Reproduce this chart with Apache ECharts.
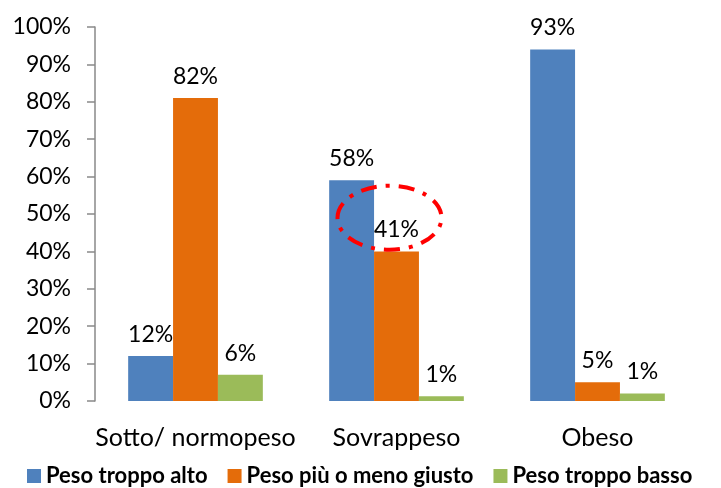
<!DOCTYPE html>
<html><head><meta charset="utf-8">
<script src="https://cdn.jsdelivr.net/npm/echarts@6/dist/echarts.min.js"></script>
<style>html,body{margin:0;padding:0;background:#fff;overflow:hidden}#c{width:721px;height:488px}</style>
</head><body><div id="c"></div>
<script>
var categories = ['Sotto/ normopeso', 'Sovrappeso', 'Obeso'];
var seriesNames = ['Peso troppo alto', 'Peso più o meno giusto', 'Peso troppo basso'];
var altoValues = [12, 59, 94];
var giustoValues = [81, 40, 5];
var bassoValues = [7, 1.3, 2];
var altoLabels = ['12%', '58%', '93%'];
var giustoLabels = ['82%', '41%', '5%'];
var bassoLabels = ['6%', '1%', '1%'];
var yTicks = [0, 10, 20, 30, 40, 50, 60, 70, 80, 90, 100];

var colors = ['#4F81BD', '#E46C0A', '#9BBB59'];
var FONT = 'Lato, "Open Sans", sans-serif';

function mkSeries(name, vals, labels, color) {
  return {
    name: name, type: 'bar', data: vals, barGap: '0%', barCategoryGap: '33%',
    itemStyle: { color: color },
    label: {
      show: true, position: 'top', distance: 10, color: '#000',
      fontFamily: FONT, fontSize: 23,
      formatter: function (p) { return labels[p.dataIndex]; }
    }
  };
}

var chart = echarts.init(document.getElementById('c'));
chart.setOption({
  animation: false,
  color: colors,
  grid: { left: 95, right: 23, top: 27, bottom: 87, containLabel: false },
  legend: {
    top: 465, left: 27, width: 700, padding: 0, itemWidth: 14, itemHeight: 14, itemGap: 20,
    icon: 'rect',
    textStyle: { fontFamily: FONT, fontSize: 22, fontWeight: 'bold', color: '#000' },
    data: seriesNames
  },
  xAxis: {
    type: 'category', data: categories,
    axisLine: { show: false }, axisTick: { show: false },
    axisLabel: { color: '#000', fontFamily: FONT, fontSize: 25, margin: 24, interval: 0 }
  },
  yAxis: {
    type: 'value', min: 0, max: 100, interval: 10,
    splitLine: { show: false },
    axisLine: { show: true, lineStyle: { color: '#898989', width: 1.5 } },
    axisTick: { show: true, inside: false, length: 8, lineStyle: { color: '#898989', width: 1.5 } },
    axisLabel: {
      color: '#000', fontFamily: FONT, fontSize: 23, margin: 24,
      formatter: function (v) { return yTicks.indexOf(v) >= 0 ? v + '%' : ''; }
    }
  },
  series: [
    mkSeries(seriesNames[0], altoValues, altoLabels, colors[0]),
    mkSeries(seriesNames[1], giustoValues, giustoLabels, colors[1]),
    mkSeries(seriesNames[2], bassoValues, bassoLabels, colors[2])
  ]
});

// annotation ellipse around the "41%" label, positioned through the chart's scales
var c = chart.convertToPixel({ seriesIndex: 1 }, [categories[1], 49]);
chart.setOption({
  graphic: [{
    type: 'ellipse', z: 100,
    shape: { cx: c[0] - 7, cy: c[1], rx: 52, ry: 32 },
    style: { fill: 'none', stroke: '#FF0000', lineWidth: 4, lineDash: [16, 9, 4, 9] }
  }]
});
</script>
</body></html>
